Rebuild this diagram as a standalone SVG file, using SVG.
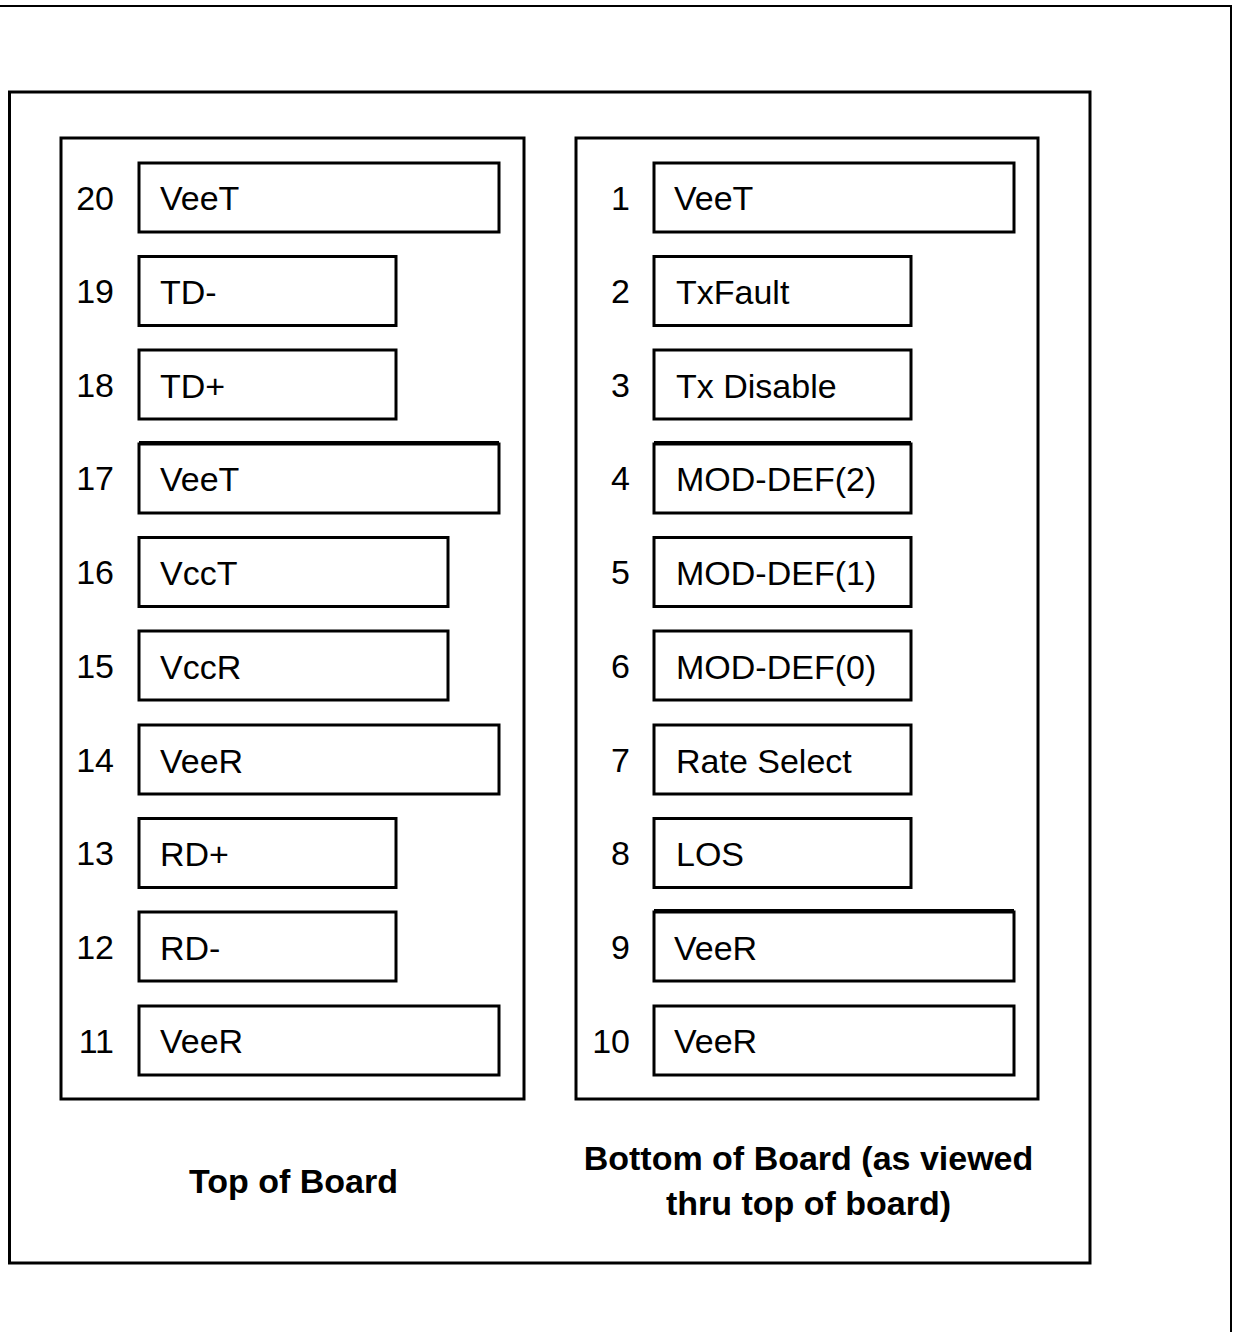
<svg xmlns="http://www.w3.org/2000/svg" width="1234" height="1332" viewBox="0 0 1234 1332">
<style>
.frame{fill:none;stroke:#000;stroke-width:2}
.box{fill:#fff;stroke:#000;stroke-width:3}
.pin{fill:#fff;stroke:#000;stroke-width:3}
.lbl{font-family:"Liberation Sans",Arial,sans-serif;font-size:34px;fill:#000}
.num{font-family:"Liberation Sans",Arial,sans-serif;font-size:34px;fill:#000;text-anchor:end}
.ttl{font-family:"Liberation Sans",Arial,sans-serif;font-size:34px;font-weight:bold;fill:#000;text-anchor:middle}
.thick{stroke:#000;stroke-width:3}
</style>
<rect width="1234" height="1332" fill="#fff"/>
<path class="frame" d="M0,6 H1231 V1332"/>
<g id="board">
<rect class="box" x="9.5" y="92" width="1080.5" height="1171"/>
</g>
<g id="top-panel">
<rect class="box" x="61" y="138" width="463" height="961"/>
<text class="ttl" x="293.5" y="1193">Top of Board</text>
</g>
<g id="bottom-panel">
<rect class="box" x="576" y="138" width="462" height="961"/>
<text class="ttl" x="808.5" y="1170">Bottom of Board (as viewed</text>
<text class="ttl" x="808.5" y="1215">thru top of board)</text>
</g>
<g id="pin20"><rect class="pin" x="139" y="163" width="360" height="69"/><text class="num" x="114" y="210">20</text><text class="lbl" x="160" y="210">VeeT</text></g>
<g id="pin19"><rect class="pin" x="139" y="256.5" width="257" height="69"/><text class="num" x="114" y="303">19</text><text class="lbl" x="160" y="304">TD-</text></g>
<g id="pin18"><rect class="pin" x="139" y="350" width="257" height="69"/><text class="num" x="114" y="397">18</text><text class="lbl" x="160" y="398">TD+</text></g>
<g id="pin17"><rect class="pin" x="139" y="444" width="360" height="69"/><line class="thick" x1="139" y1="442.5" x2="499" y2="442.5"/><text class="num" x="114" y="490">17</text><text class="lbl" x="160" y="491">VeeT</text></g>
<g id="pin16"><rect class="pin" x="139" y="537.5" width="309" height="69"/><text class="num" x="114" y="584">16</text><text class="lbl" x="160" y="585">VccT</text></g>
<g id="pin15"><rect class="pin" x="139" y="631" width="309" height="69"/><text class="num" x="114" y="678">15</text><text class="lbl" x="160" y="679">VccR</text></g>
<g id="pin14"><rect class="pin" x="139" y="725" width="360" height="69"/><text class="num" x="114" y="772">14</text><text class="lbl" x="160" y="773">VeeR</text></g>
<g id="pin13"><rect class="pin" x="139" y="818.5" width="257" height="69"/><text class="num" x="114" y="865">13</text><text class="lbl" x="160" y="866">RD+</text></g>
<g id="pin12"><rect class="pin" x="139" y="912" width="257" height="69"/><text class="num" x="114" y="959">12</text><text class="lbl" x="160" y="960">RD-</text></g>
<g id="pin11"><rect class="pin" x="139" y="1006" width="360" height="69"/><text class="num" x="114" y="1053">11</text><text class="lbl" x="160" y="1053">VeeR</text></g>
<g id="pin1"><rect class="pin" x="654" y="163" width="360" height="69"/><text class="num" x="630" y="210">1</text><text class="lbl" x="674" y="210">VeeT</text></g>
<g id="pin2"><rect class="pin" x="654" y="256.5" width="257" height="69"/><text class="num" x="630" y="303">2</text><text class="lbl" x="676" y="304">TxFault</text></g>
<g id="pin3"><rect class="pin" x="654" y="350" width="257" height="69"/><text class="num" x="630" y="397">3</text><text class="lbl" x="676" y="398">Tx Disable</text></g>
<g id="pin4"><rect class="pin" x="654" y="444" width="257" height="69"/><line class="thick" x1="654" y1="442.5" x2="911" y2="442.5"/><text class="num" x="630" y="490">4</text><text class="lbl" x="676" y="491">MOD-DEF(2)</text></g>
<g id="pin5"><rect class="pin" x="654" y="537.5" width="257" height="69"/><text class="num" x="630" y="584">5</text><text class="lbl" x="676" y="585">MOD-DEF(1)</text></g>
<g id="pin6"><rect class="pin" x="654" y="631" width="257" height="69"/><text class="num" x="630" y="678">6</text><text class="lbl" x="676" y="679">MOD-DEF(0)</text></g>
<g id="pin7"><rect class="pin" x="654" y="725" width="257" height="69"/><text class="num" x="630" y="772">7</text><text class="lbl" x="676" y="773">Rate Select</text></g>
<g id="pin8"><rect class="pin" x="654" y="818.5" width="257" height="69"/><text class="num" x="630" y="865">8</text><text class="lbl" x="676" y="866">LOS</text></g>
<g id="pin9"><rect class="pin" x="654" y="912" width="360" height="69"/><line class="thick" x1="654" y1="910.5" x2="1014" y2="910.5"/><text class="num" x="630" y="959">9</text><text class="lbl" x="674" y="960">VeeR</text></g>
<g id="pin10"><rect class="pin" x="654" y="1006" width="360" height="69"/><text class="num" x="630" y="1053">10</text><text class="lbl" x="674" y="1053">VeeR</text></g>
<g id="connectors"></g>
</svg>
